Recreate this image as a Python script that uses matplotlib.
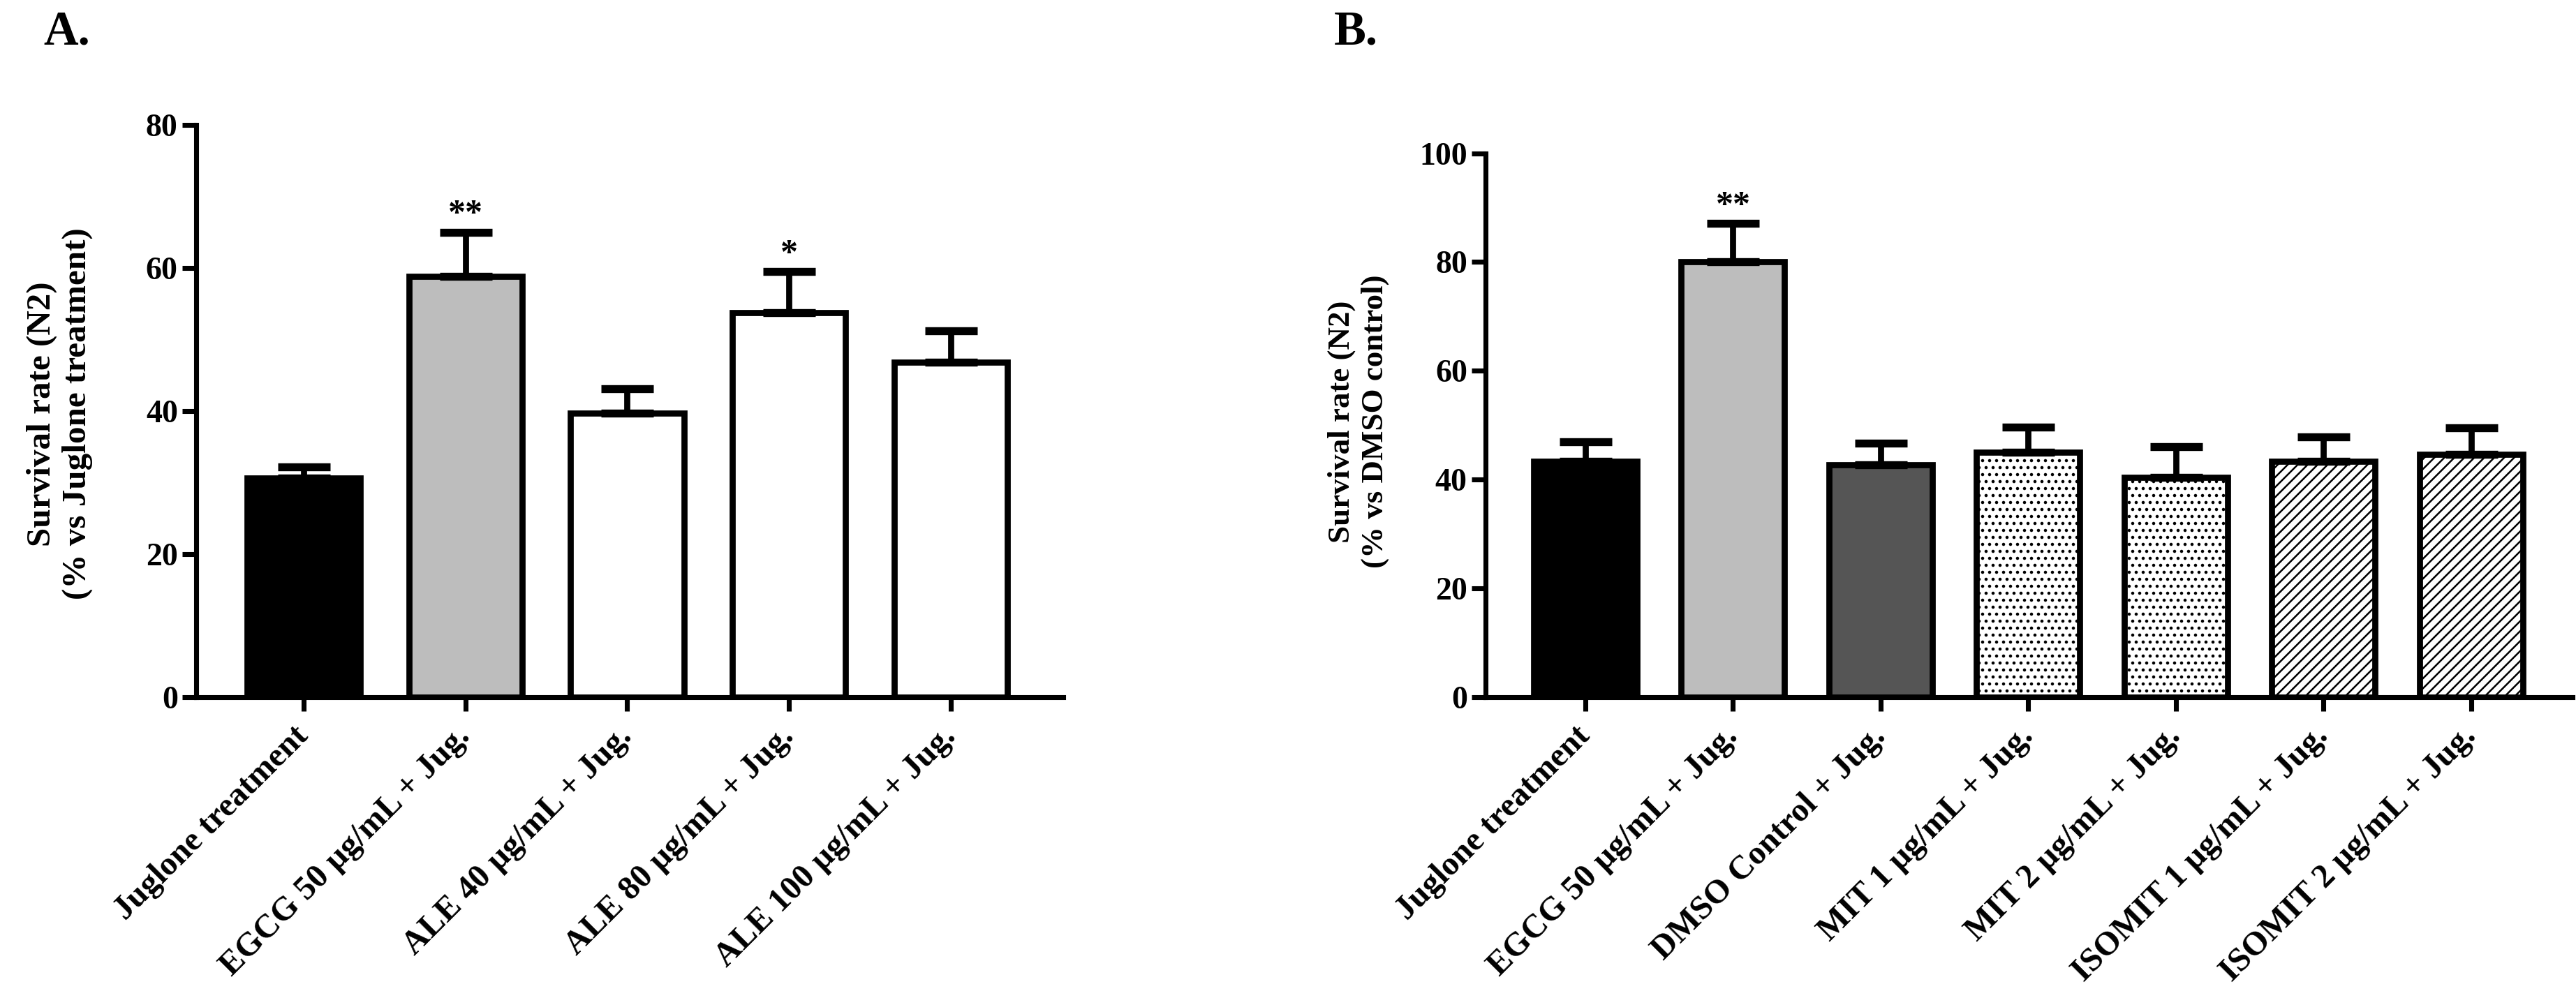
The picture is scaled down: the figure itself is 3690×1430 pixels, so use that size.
import matplotlib
matplotlib.use('Agg')
import matplotlib.pyplot as plt
import numpy as np

plt.rcParams['font.family'] = ['Liberation Serif', 'DejaVu Serif']
plt.rcParams['font.weight'] = 'bold'
plt.rcParams['hatch.linewidth'] = 0.6

# ---------------- data ----------------
a_labels = ['Juglone treatment', 'EGCG 50 µg/mL + Jug.', 'ALE 40 µg/mL + Jug.',
            'ALE 80 µg/mL + Jug.', 'ALE 100 µg/mL + Jug.']
a_means = [30.6, 58.8, 39.7, 53.8, 46.8]
a_err = [1.6, 6.2, 3.4, 5.7, 4.4]
a_colors = ['black', '#bdbdbd', 'white', 'white', 'white']
a_stars = ['', '**', '', '*', '']
a_yticks = [0, 20, 40, 60, 80]

b_labels = ['Juglone treatment', 'EGCG 50 µg/mL + Jug.', 'DMSO Control + Jug.',
            'MIT 1 µg/mL + Jug.', 'MIT 2 µg/mL + Jug.', 'ISOMIT 1 µg/mL + Jug.',
            'ISOMIT 2 µg/mL + Jug.']
b_means = [43.4, 80.0, 42.7, 45.0, 40.4, 43.4, 44.6]
b_err = [3.5, 7.1, 4.0, 4.6, 5.6, 4.5, 4.9]
b_colors = ['black', '#bdbdbd', '#555555', 'white', 'white', 'white', 'white']
b_hatches = ['', '', '', '.....', '.....', '///////', '///////']
b_stars = ['', '**', '', '', '', '', '']
b_yticks = [0, 20, 40, 60, 80, 100]

# ---------------- figure ----------------
W, H = 3690, 1430
DPI = 300
fig = plt.figure(figsize=(W / DPI, H / DPI), dpi=DPI)

LW = 2.1      # bar edge / error bar width (pt)
SPW = 1.7     # spine width


def px_axes(l, r, top, bottom):
    return fig.add_axes([l / W, 1 - bottom / H, (r - l) / W, (bottom - top) / H])


def draw_panel(ax, labels, means, errs, colors, hatches, stars, yticks, xlim):
    x = np.arange(len(labels))
    ax.bar(x, means, width=0.70, color=colors, edgecolor='black',
           linewidth=LW, hatch=hatches, zorder=2)
    ax.errorbar(x, means, yerr=[np.zeros(len(means)), errs], fmt='none',
                ecolor='black', elinewidth=LW, capsize=9, capthick=LW * 1.3,
                zorder=3)
    for xi, m, e, s in zip(x, means, errs, stars):
        if s:
            ax.annotate(s, xy=(xi, m + e), xytext=(0, 3),
                        textcoords='offset points', ha='center',
                        va='baseline', fontsize=12, fontweight='bold')
    ax.set_xlim(*xlim)
    ax.set_ylim(yticks[0], yticks[-1])
    ax.set_yticks(yticks)
    ax.set_xticks(x)
    ax.set_xticklabels(labels, rotation=45, ha='right', va='center',
                       rotation_mode='anchor', fontsize=11.5,
                       fontweight='bold')
    for lab in ax.get_yticklabels():
        lab.set_fontweight('bold')
    ax.tick_params(axis='y', labelsize=11, width=SPW, length=4.8, pad=1.5)
    ax.tick_params(axis='x', width=SPW, length=4.8, pad=7)
    for sp in ['top', 'right']:
        ax.spines[sp].set_visible(False)
    for sp in ['left', 'bottom']:
        ax.spines[sp].set_linewidth(SPW)
    ax.set_facecolor('none')


# Panel A
axA = px_axes(281, 1523, 179, 999)
draw_panel(axA, a_labels, a_means, a_err, a_colors, [''] * len(a_labels),
           a_stars, a_yticks, (-0.6645, 4.695))
fig.text(85 / W, 1 - 593 / H, 'Survival rate (N2)\n(% vs Juglone treatment)',
         rotation=90, ha='center', va='center', multialignment='center',
         fontsize=11.8, fontweight='bold', linespacing=1.2)
fig.text(62 / W, 1 - 64 / H, 'A.', fontsize=16.5, fontweight='bold',
         va='baseline', ha='left')

# Panel B
axB = px_axes(2128, 3685, 219.5, 999)
draw_panel(axB, b_labels, b_means, b_err, b_colors, b_hatches,
           b_stars, b_yticks, (-0.676, 6.686))
fig.text(1946 / W, 1 - 604 / H, 'Survival rate (N2)\n(% vs DMSO control)',
         rotation=90, ha='center', va='center', multialignment='center',
         fontsize=10.8, fontweight='bold', linespacing=1.25)
fig.text(1911 / W, 1 - 64 / H, 'B.', fontsize=16.5, fontweight='bold',
         va='baseline', ha='left')

fig.savefig('out.png', dpi=DPI, facecolor='white')
